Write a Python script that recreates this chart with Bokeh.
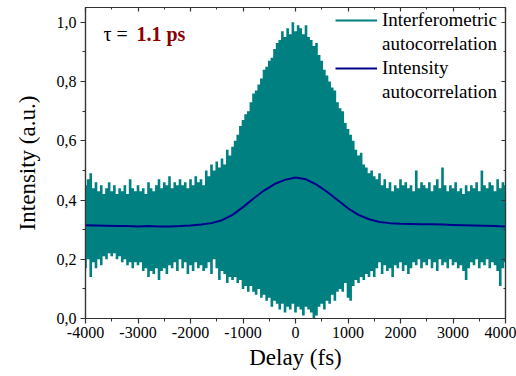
from bokeh.plotting import figure
from bokeh.models import (Range1d, FixedTicker, CustomJSTickFormatter, LinearAxis,
                          Legend, LegendItem, Label)
from bokeh.embed import file_html
from bokeh.resources import INLINE

# ---------------- data ----------------
delay_fs = list(range(-4000, 4001, 50))

interf_upper = [
    0.45, 0.47, 0.49, 0.44, 0.46, 0.43, 0.45, 0.42, 0.44, 0.46,
    0.43, 0.45, 0.42, 0.44, 0.43, 0.45, 0.42, 0.47, 0.44, 0.43,
    0.45, 0.43, 0.44, 0.42, 0.46, 0.44, 0.43, 0.45, 0.47, 0.44,
    0.46, 0.45, 0.48, 0.44, 0.46, 0.45, 0.47, 0.45, 0.46, 0.44,
    0.47, 0.45, 0.48, 0.46, 0.47, 0.45, 0.50, 0.48, 0.52, 0.50,
    0.53, 0.51, 0.54, 0.52, 0.57, 0.55, 0.58, 0.60, 0.62, 0.65,
    0.67, 0.69, 0.70, 0.73, 0.76, 0.77, 0.79, 0.81, 0.84, 0.85,
    0.87, 0.88, 0.91, 0.93, 0.94, 0.97, 0.95, 0.98, 0.96, 1.00,
    0.97, 0.99, 0.98, 0.96, 0.99, 0.95, 0.94, 0.92, 0.93, 0.89,
    0.87, 0.84, 0.82, 0.80, 0.78, 0.77, 0.73, 0.71, 0.70, 0.66,
    0.64, 0.62, 0.60, 0.57, 0.55, 0.56, 0.52, 0.51, 0.49, 0.50,
    0.48, 0.47, 0.49, 0.45, 0.47, 0.44, 0.46, 0.43, 0.45, 0.44,
    0.47, 0.45, 0.46, 0.44, 0.45, 0.43, 0.50, 0.44, 0.46, 0.45,
    0.44, 0.46, 0.43, 0.45, 0.47, 0.44, 0.51, 0.45, 0.43, 0.45,
    0.44, 0.46, 0.43, 0.44, 0.42, 0.45, 0.43, 0.45, 0.44, 0.46,
    0.43, 0.50, 0.45, 0.44, 0.46, 0.45, 0.43, 0.47, 0.44, 0.46,
    0.45,
]

interf_lower = [
    0.17, 0.20, 0.14, 0.19, 0.17, 0.20, 0.18, 0.21, 0.20, 0.22,
    0.21, 0.22, 0.20, 0.21, 0.19, 0.20, 0.18, 0.19, 0.17, 0.19,
    0.18, 0.19, 0.16, 0.17, 0.14, 0.16, 0.15, 0.17, 0.13, 0.16,
    0.17, 0.15, 0.18, 0.17, 0.19, 0.16, 0.20, 0.17, 0.19, 0.15,
    0.18, 0.16, 0.19, 0.17, 0.18, 0.16, 0.17, 0.19, 0.15, 0.20,
    0.17, 0.13, 0.16, 0.15, 0.12, 0.14, 0.13, 0.14, 0.12, 0.13,
    0.10, 0.11, 0.09, 0.11, 0.09, 0.08, 0.10, 0.07, 0.08, 0.06,
    0.07, 0.04, 0.06, 0.05, 0.03, 0.05, 0.02, 0.04, 0.03, 0.05,
    0.02, 0.04, 0.03, 0.01, 0.04, 0.03, 0.02, 0.00, 0.01, 0.04,
    0.05, 0.03, 0.06, 0.05, 0.08, 0.06, 0.09, 0.10, 0.09, 0.12,
    0.07, 0.06, 0.11, 0.13, 0.12, 0.14, 0.13, 0.15, 0.14, 0.16,
    0.14, 0.17, 0.19, 0.15, 0.18, 0.16, 0.17, 0.14, 0.18, 0.17,
    0.19, 0.16, 0.18, 0.15, 0.17, 0.19, 0.18, 0.20, 0.17, 0.19,
    0.18, 0.20, 0.17, 0.19, 0.16, 0.20, 0.18, 0.19, 0.17, 0.20,
    0.18, 0.19, 0.17, 0.18, 0.16, 0.13, 0.17, 0.19, 0.18, 0.20,
    0.17, 0.19, 0.18, 0.20, 0.17, 0.19, 0.18, 0.16, 0.11, 0.17,
    0.19,
]

intensity_delay_fs = list(range(-4000, 4001, 200))
intensity_ac = [
    0.315, 0.314, 0.313, 0.312, 0.312, 0.311, 0.312, 0.311, 0.311, 0.312,
    0.314, 0.317, 0.322, 0.332, 0.350, 0.376, 0.405, 0.432, 0.454, 0.468,
    0.476,
    0.470, 0.452, 0.428, 0.400, 0.372, 0.350, 0.335, 0.326, 0.322, 0.320,
    0.319, 0.318, 0.318, 0.317, 0.316, 0.315, 0.314, 0.313, 0.312, 0.311,
]

x_ticks = [-4000, -3000, -2000, -1000, 0, 1000, 2000, 3000, 4000]
x_minor = [-3500, -2500, -1500, -500, 500, 1500, 2500, 3500]
y_ticks = [0.0, 0.2, 0.4, 0.6, 0.8, 1.0]
y_minor = [0.1, 0.3, 0.5, 0.7, 0.9]

series_labels = ["Interferometric", "autocorrelation", "Intensity", "autocorrelation"]
tau_prefix = "τ ="
tau_value = "1.1 ps"

TEAL = "#008080"
NAVY = "#00008B"
AXIS = "#333333"
FONT = "Liberation Serif"

# ---------------- figure ----------------
p = figure(width=516, height=376, output_backend="svg", toolbar_location=None,
           x_range=Range1d(-4000, 4000), y_range=Range1d(0, 1.05),
           min_border_left=85, min_border_right=11, min_border_top=7,
           min_border_bottom=58)
p.xgrid.visible = False
p.ygrid.visible = False
p.outline_line_color = AXIS
p.outline_line_width = 1.2
p.background_fill_color = "white"
p.border_fill_color = "white"

p.varea_step(x=delay_fs, y1=interf_lower, y2=interf_upper, step_mode="center",
             fill_color=TEAL)
legend_interf = p.line(x=[0, 0], y=[float("nan"), float("nan")],
                       line_color=TEAL, line_width=2)
ia_line = p.line(intensity_delay_fs, intensity_ac, line_color=NAVY, line_width=2)
blank1 = p.line(x=[0, 0], y=[float("nan"), float("nan")], line_alpha=0)
blank2 = p.line(x=[0, 0], y=[float("nan"), float("nan")], line_alpha=0)


def style_axis(ax):
    ax.axis_line_color = AXIS
    ax.axis_line_width = 1.2
    ax.major_tick_line_color = AXIS
    ax.minor_tick_line_color = AXIS
    ax.major_tick_line_width = 1.2
    ax.minor_tick_line_width = 1
    ax.major_label_text_font = FONT
    ax.major_label_text_font_size = "16px"
    ax.major_label_text_color = "black"
    ax.axis_label_text_font = FONT
    ax.axis_label_text_font_size = "23px"
    ax.axis_label_text_font_style = "normal"
    ax.axis_label_text_color = "black"


xa = p.xaxis[0]
xa.ticker = FixedTicker(ticks=x_ticks, minor_ticks=x_minor)
xa.formatter = CustomJSTickFormatter(code="return tick.toFixed(0);")
xa.axis_label = "Delay (fs)"
style_axis(xa)
xa.major_tick_out = 5
xa.major_tick_in = 0
xa.minor_tick_out = 3
xa.minor_tick_in = 0
xa.major_label_standoff = 3
xa.axis_label_standoff = 4

ya = p.yaxis[0]
ya.ticker = FixedTicker(ticks=y_ticks, minor_ticks=y_minor)
ya.formatter = CustomJSTickFormatter(code="return tick.toFixed(1).replace('.', ',');")
ya.axis_label = "Intensity (a.u.)"
style_axis(ya)
ya.major_tick_out = 5
ya.major_tick_in = 0
ya.minor_tick_out = 3
ya.minor_tick_in = 0
ya.major_label_standoff = 4
ya.axis_label_standoff = 14

for loc, tk, mn in (("above", x_ticks, x_minor), ("right", y_ticks, y_minor)):
    ax = LinearAxis(ticker=FixedTicker(ticks=tk, minor_ticks=mn),
                    formatter=CustomJSTickFormatter(code="return '';"))
    style_axis(ax)
    ax.major_tick_in = 4
    ax.major_tick_out = 0
    ax.minor_tick_in = 2
    ax.minor_tick_out = 0
    ax.major_label_text_font_size = "0px"
    ax.major_label_standoff = 0
    p.add_layout(ax, loc)

legend = Legend(
    items=[LegendItem(label=series_labels[0], renderers=[legend_interf]),
           LegendItem(label=series_labels[1], renderers=[blank1]),
           LegendItem(label=series_labels[2], renderers=[ia_line]),
           LegendItem(label=series_labels[3], renderers=[blank2])],
    location=(250, 214), orientation="vertical",
    padding=0, margin=0, spacing=0,
    glyph_width=42, glyph_height=24, label_height=24, label_standoff=5,
    label_text_font=FONT, label_text_font_size="19px", label_text_color="black",
    border_line_alpha=0, background_fill_alpha=0,
)
p.add_layout(legend)

p.add_layout(Label(x=18, y=285, x_units="screen", y_units="screen", text=tau_prefix,
                   text_font=FONT, text_font_size="20px", text_baseline="middle",
                   text_color="black"))
p.add_layout(Label(x=51, y=285, x_units="screen", y_units="screen", text=tau_value,
                   text_font=FONT, text_font_size="20px", text_font_style="bold",
                   text_baseline="middle", text_color="#8B0000"))

open("out.html", "w").write(file_html(p, INLINE))
